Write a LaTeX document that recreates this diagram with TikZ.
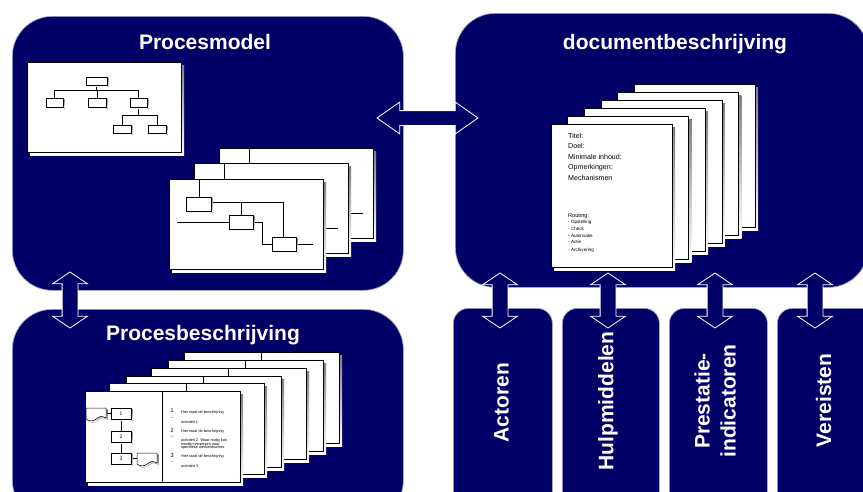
\documentclass[tikz,border=0pt]{standalone}
\usepackage{fontspec}
\setmainfont{Liberation Sans}
\usetikzlibrary{shapes.arrows}
\definecolor{navy}{RGB}{0,0,102}
\definecolor{rim}{RGB}{165,165,205}
\definecolor{shade}{RGB}{120,120,120}

% white sheet with a grey drop shadow: x, y, width, height
\newcommand\sheet[4]{%
  \fill[shade] (#1+3,#2+3) rectangle (#1+#3+3,#2+#4+3);
  \draw[sheetline] (#1,#2) rectangle (#1+#3,#2+#4);}
% small flow box with a shadow: x1, y1, x2, y2
\newcommand\smallbox[4]{%
  \fill[shade] (#1+1.5,#2+1.5) rectangle (#3+1.5,#4+1.5);
  \draw[sheetline,line width=0.5pt] (#1,#2) rectangle (#3,#4);}
% document symbol with wavy bottom at x, y
\newcommand\wavedoc[2]{%
  \begin{scope}[shift={(#1,#2)}]
    \fill[shade] (1.5,1.5) -- (21.5,1.5) -- (21.5,11.5) .. controls (16.5,8.5) and (13.5,10.5) .. (11.5,12.5)
      .. controls (8.5,15.5) and (4.5,14.5) .. (1.5,12.5) -- cycle;
    \draw[sheetline,line width=0.5pt] (0,0) -- (20,0) -- (20,10) .. controls (15,7) and (12,9) .. (10,11)
      .. controls (7,14) and (3,13) .. (0,11) -- cycle;
  \end{scope}}
% contents of one process flow sheet, relative to its top left corner
\newcommand\flowsheet[2]{%
  \begin{scope}[shift={(#1,#2)}]
    \sheet{0}{0}{154}{90}
    \draw[wire] (30,0) -- (30,18);
    \draw[wire] (42,23) -- (114,23) -- (114,58);
    \draw[wire] (72,23) -- (72,36);
    \draw[wire] (8,43) -- (60,43);
    \draw[wire] (84,43) -- (93,43) -- (93,65) -- (103,65);
    \draw[wire] (127,65) -- (144,65);
    \smallbox{17}{18}{42}{32}
    \smallbox{60}{36}{84}{50}
    \smallbox{103}{58}{127}{72}
  \end{scope}}
% description page with a divider
\newcommand\descpage[2]{%
  \sheet{#1}{#2}{155}{91}
  \draw[sheetline] (#1+77,#2) -- (#1+77,#2+91);}

\begin{document}
\begin{tikzpicture}[x=1pt,y=-1pt,
  panel/.style={fill=navy, draw=rim, line width=0.7pt, rounded corners=40pt, inner sep=0pt, anchor=north west},
  tab/.style={fill=navy, draw=rim, line width=0.7pt, rounded corners=15pt, inner sep=0pt, anchor=north west},
  title/.style={text=white, font=\bfseries\fontsize{21}{26}\selectfont, inner sep=0pt},
  dbl/.style={double arrow, draw=white, fill=navy, line width=0.8pt, inner xsep=0pt, inner ysep=7.5pt,
    double arrow head extend=9.5pt},
  sheetline/.style={draw=black, fill=white, line width=0.6pt},
  wire/.style={draw=black, line width=0.5pt},
  doctext/.style={anchor=west, inner sep=0pt, font=\fontsize{7.1}{8}\selectfont},
  listtext/.style={anchor=west, inner sep=0pt, font=\fontsize{4.6}{5}\selectfont},
  tinytext/.style={anchor=west, inner sep=0pt, font=\fontsize{3.8}{4}\selectfont},
  numtext/.style={anchor=west, inner sep=0pt, font=\fontsize{5.5}{6}\selectfont},
  wietext/.style={anchor=west, inner sep=0pt, text=black!60, font=\fontsize{2.2}{3}\selectfont}]

\clip (0,0) rectangle (863,491);
\fill[white] (0,0) rectangle (863,491);

% the four panels
\node[panel, minimum width=391pt, minimum height=274pt] (pm) at (12,16) {};
\node[panel, minimum width=413pt, minimum height=274pt] (db) at (455,13) {};
\node[panel, minimum width=391pt, minimum height=211pt] (pb) at (12,309) {};
\node[tab, minimum width=99pt, minimum height=212pt] (ac) at (453,308) {};
\node[tab, minimum width=97pt, minimum height=212pt] (hm) at (562,308) {};
\node[tab, minimum width=98pt, minimum height=212pt] (pi) at (669,308) {};
\node[tab, minimum width=100pt, minimum height=212pt] (ve) at (777,308) {};

% titles
\node[title, anchor=base] (pmt) at (205,49) {Procesmodel};
\node[title, anchor=base] (dbt) at (675,49) {documentbeschrijving};
\node[title, anchor=base] (pbt) at (203,340) {Procesbeschrijving};
\node[title, rotate=90] (act) at (501.5,402.5) {Actoren};
\node[title, rotate=90] (hmt) at (608,401) {Hulpmiddelen};
\node[title, rotate=90, align=center] (pit) at (715,401) {Prestatie-\\indicatoren};
\node[title, rotate=90] (vet) at (823.5,400.5) {Vereisten};

% hierarchy chart
\sheet{27}{62}{154}{90}
\draw[wire] (96.5,85) -- (96.5,90);
\draw[wire] (54.5,98) -- (54.5,90) -- (138.5,90) -- (138.5,98);
\draw[wire] (97,90) -- (97,98);
\draw[wire] (138.5,107) -- (138.5,115);
\draw[wire] (122,125) -- (122,115) -- (157,115) -- (157,125);
\smallbox{86}{77}{107}{85}
\smallbox{46}{98}{63}{107}
\smallbox{88}{98}{106}{107}
\smallbox{130}{98}{147}{107}
\smallbox{113}{125}{131}{133}
\smallbox{148}{125}{166}{133}

% stacked process flow sheets
\flowsheet{219}{148}
\flowsheet{194}{163}
\flowsheet{169}{179}

% stacked document descriptions
\foreach \i in {5,4,...,1} {
  \sheet{551+16.6*\i}{124-8*\i}{121}{143}
}
\sheet{551}{124}{121}{143}
\node[doctext] (t1) at (568,135.7) {Titel:};
\node[doctext] (t2) at (568,145.7) {Doel:};
\node[doctext] (t3) at (568,157) {Minimale inhoud:};
\node[doctext] (t4) at (568,167.7) {Opmerkingen:};
\node[doctext] (t5) at (568,177.7) {Mechanismen};
\node[doctext, font=\fontsize{5.6}{6}\selectfont] (t6) at (568,215.7) {Routing:};
\node[listtext] (r1) at (568,222) {- Opstelling};
\node[listtext] (r2) at (568,228.7) {- Check};
\node[listtext] (r3) at (568,235.7) {- Autorisatie};
\node[listtext] (r4) at (568,242.3) {- Actie};
\node[listtext] (r5) at (568,250) {- Archivering};

% stacked description pages
\descpage{184}{352}
\descpage{168}{360}
\descpage{151}{368}
\descpage{126}{376}
\descpage{109}{383}
\descpage{85}{391}
\draw[wire] (106,413.5) -- (111,413.5);
\draw[wire] (121,419) -- (121,431);
\draw[wire] (121,442) -- (121,453);
\draw[wire] (131,458.5) -- (137,458.5);
\wavedoc{86}{408}
\wavedoc{137}{453}
\smallbox{111}{408}{131}{419}
\smallbox{111}{431}{131}{442}
\smallbox{111}{453}{131}{464}
\node[font=\fontsize{5}{6}\selectfont, inner sep=0pt] (b1) at (121,413.5) {1};
\node[font=\fontsize{5}{6}\selectfont, inner sep=0pt] (b2) at (121,436.5) {2};
\node[font=\fontsize{5}{6}\selectfont, inner sep=0pt] (b3) at (121,458.5) {3};
\node[numtext] (n1) at (170.5,411) {1};
\node[wietext] (w1) at (170.5,417.3) {wie};
\node[tinytext] (d1a) at (181,412.7) {Hier staat de beschrijving};
\node[tinytext] (d1b) at (181,421.7) {activiteit 1.};
\node[numtext] (n2) at (170.5,430.5) {2};
\node[wietext] (w2) at (170.5,436.7) {wie};
\node[tinytext] (d2a) at (181,431.7) {Hier staat de beschrijving};
\node[tinytext, align=left, font=\fontsize{3.8}{3.6}\selectfont] (d2b) at (181,444.3) {activiteit 2. Waar nodig kan\\worden verwezen naar\\specifieke werkinstructies.};
\node[numtext] (n3) at (170.5,455.5) {3};
\node[wietext] (w3) at (170.5,461.9) {wie};
\node[tinytext] (d3a) at (181,456.7) {Hier staat de beschrijving};
\node[tinytext] (d3b) at (181,465.7) {activiteit 3.};

% linking double arrows
\node[dbl, minimum height=101pt, inner ysep=7pt, double arrow head extend=8.5pt, double arrow tip angle=70] (h1) at (427.5,118) {};
\node[dbl, rotate=90, minimum height=56pt, double arrow tip angle=112] (v0) at (70,300) {};
\node[dbl, rotate=90, minimum height=55pt, double arrow tip angle=112] (v1) at (500,300.5) {};
\node[dbl, rotate=90, minimum height=55pt, double arrow tip angle=112] (v2) at (608,300.5) {};
\node[dbl, rotate=90, minimum height=55pt, double arrow tip angle=112] (v3) at (715,300.5) {};
\node[dbl, rotate=90, minimum height=55pt, double arrow tip angle=112] (v4) at (815,300.5) {};
\end{tikzpicture}
\end{document}
